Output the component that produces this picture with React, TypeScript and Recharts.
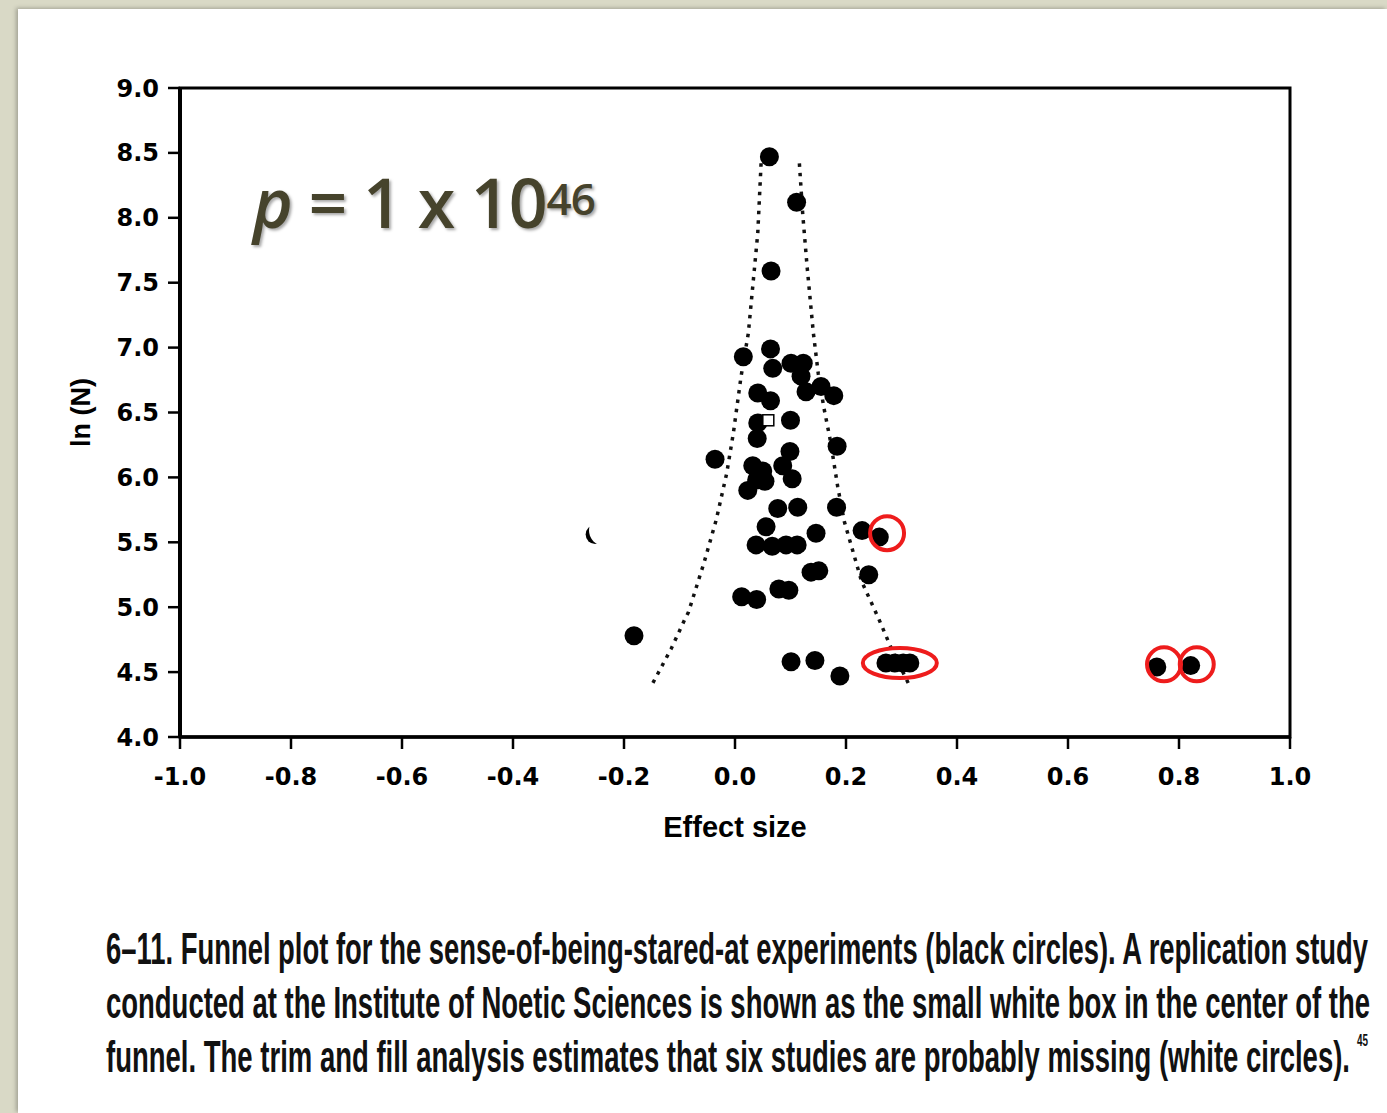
import {
  ScatterChart,
  Scatter,
  XAxis,
  YAxis,
  ReferenceArea,
} from "recharts";

// effect size / ln(N) of the published studies (black circles)
const studyEffect = [
  0.062, 0.111, 0.065, 0.064, 0.015, 0.068, 0.101, 0.123, 0.119, 0.128,
  0.155, 0.178, 0.041, 0.064, 0.1, 0.041, 0.04, 0.184, -0.036, 0.099,
  0.086, 0.032, 0.05, 0.039, 0.054, 0.023, 0.103, 0.077, 0.113, 0.183,
  0.056, 0.038, 0.067, 0.092, 0.112, 0.146, 0.229, 0.26, 0.151, 0.137,
  0.241, 0.079, 0.097, 0.012, 0.039, -0.182, 0.101, 0.144, 0.189, 0.272,
  0.288, 0.303, 0.315, 0.76, 0.821, -0.252,
];
const studyLnN = [
  8.47, 8.12, 7.59, 6.99, 6.93, 6.84, 6.88, 6.88, 6.78, 6.66,
  6.7, 6.63, 6.65, 6.59, 6.44, 6.42, 6.3, 6.24, 6.14, 6.2,
  6.09, 6.09, 6.05, 5.98, 5.97, 5.9, 5.99, 5.76, 5.77, 5.77,
  5.62, 5.48, 5.47, 5.48, 5.48, 5.57, 5.59, 5.54, 5.28, 5.27,
  5.25, 5.14, 5.13, 5.08, 5.06, 4.78, 4.58, 4.59, 4.47, 4.57,
  4.57, 4.57, 4.57, 4.54, 4.55, 5.56,
];

// replication study (small white box)
const replicationEffect = [0.06];
const replicationLnN = [6.44];

// erased "missing study" white circle
const missingEffect = [-0.236];
const missingLnN = [5.59];

// funnel boundaries
const funnelLeftEffect = [0.047, 0.041, 0.024, 0.011, -0.003, -0.015, -0.034, -0.056, -0.084, -0.09, -0.115, -0.15];
const funnelLeftLnN = [8.42, 7.88, 7.11, 6.78, 6.34, 6.03, 5.67, 5.34, 4.96, 4.91, 4.68, 4.4];
const funnelRightEffect = [0.116, 0.122, 0.13, 0.141, 0.15, 0.16, 0.172, 0.185, 0.197, 0.228, 0.258, 0.281, 0.315];
const funnelRightLnN = [8.42, 8.03, 7.62, 7.12, 6.8, 6.54, 6.28, 5.93, 5.66, 5.2, 4.92, 4.69, 4.39];

// red highlight marks
const circleEffect = [0.274, 0.773, 0.832];
const circleLnN = [5.57, 4.56, 4.56];
const ovalEffect = [0.297];
const ovalLnN = [4.57];

const xTicks = [-1.0, -0.8, -0.6, -0.4, -0.2, 0.0, 0.2, 0.4, 0.6, 0.8, 1.0];
const yTicks = [4.0, 4.5, 5.0, 5.5, 6.0, 6.5, 7.0, 7.5, 8.0, 8.5, 9.0];

const captionLines = [
  "6–11. Funnel plot for the sense-of-being-stared-at experiments (black circles). A replication study",
  "conducted at the Institute of Noetic Sciences is shown as the small white box in the center of the",
  "funnel. The trim and fill analysis estimates that six studies are probably missing (white circles).",
];
const captionNote = "45";

const zip = (xs: number[], ys: number[]) => xs.map((x, i) => ({ x, y: ys[i] }));

const studies = zip(studyEffect, studyLnN);
const replication = zip(replicationEffect, replicationLnN);
const missing = zip(missingEffect, missingLnN);
const funnelLeft = zip(funnelLeftEffect, funnelLeftLnN);
const funnelRight = zip(funnelRightEffect, funnelRightLnN);
const circles = zip(circleEffect, circleLnN);
const ovals = zip(ovalEffect, ovalLnN);

const tickStyle = {
  fill: "#000",
  fontSize: 24,
  fontWeight: 700,
  fontFamily: "DejaVu Sans, sans-serif",
};

const RED = "#ee1c1c";
const dotted = { stroke: "#111", strokeWidth: 3.5, strokeDasharray: "3.5 6" };
const noShape = () => <g />;

const App = () => {
  return (
    <div
      style={{
        position: "relative",
        width: 1387,
        height: 1113,
        background: "#d9d9c6",
        overflow: "hidden",
      }}
    >
      <style>{"body{margin:0}"}</style>
      <div
        style={{
          position: "absolute",
          left: 18,
          top: 9,
          right: 0,
          bottom: 0,
          background: "#fff",
          boxShadow: "-2px -1px 4px rgba(0,0,0,0.25)",
        }}
      />
      <div style={{ position: "absolute", left: 0, top: 0 }}>
        <ScatterChart
          width={1387}
          height={850}
          margin={{ top: 88, right: 97, bottom: 13, left: 0 }}
        >
          <XAxis
            type="number"
            dataKey="x"
            domain={[-1, 1]}
            ticks={xTicks}
            tickFormatter={(v: number) => v.toFixed(1)}
            tick={tickStyle}
            tickSize={12}
            tickMargin={19}
            tickLine={{ stroke: "#000", strokeWidth: 2.5 }}
            axisLine={{ stroke: "#000", strokeWidth: 3.5 }}
            height={100}
            allowDataOverflow
            label={{
              value: "Effect size",
              position: "insideBottom",
              offset: 0,
              style: {
                fill: "#000",
                fontSize: 29,
                fontWeight: 700,
                fontFamily: "Liberation Sans, Arial, sans-serif",
              },
            }}
          />
          <YAxis
            type="number"
            dataKey="y"
            domain={[4, 9]}
            ticks={yTicks}
            tickFormatter={(v: number) => v.toFixed(1)}
            tick={tickStyle}
            tickSize={12}
            tickMargin={9}
            tickLine={{ stroke: "#000", strokeWidth: 2.5 }}
            axisLine={{ stroke: "#000", strokeWidth: 4 }}
            width={180}
            allowDataOverflow
            label={{
              value: "ln (N)",
              angle: -90,
              position: "insideLeft",
              offset: 80,
              style: {
                fill: "#000",
                fontSize: 27,
                fontWeight: 700,
                textAnchor: "middle",
                fontFamily: "Liberation Sans, Arial, sans-serif",
              },
            }}
          />
          <ReferenceArea
            x1={-1}
            x2={1}
            y1={4}
            y2={9}
            fill="none"
            fillOpacity={0}
            stroke="#000"
            strokeWidth={3}
          />
          <Scatter
            data={funnelLeft}
            line={dotted}
            lineType="joint"
            shape={noShape}
            isAnimationActive={false}
          />
          <Scatter
            data={funnelRight}
            line={dotted}
            lineType="joint"
            shape={noShape}
            isAnimationActive={false}
          />
          <Scatter
            data={studies}
            isAnimationActive={false}
            shape={(p: any) => <circle cx={p.cx} cy={p.cy} r={9.5} fill="#000" />}
          />
          <Scatter
            data={missing}
            isAnimationActive={false}
            shape={(p: any) => <circle cx={p.cx} cy={p.cy} r={15} fill="#fff" />}
          />
          <Scatter
            data={replication}
            isAnimationActive={false}
            shape={(p: any) => (
              <rect
                x={p.cx - 5.5}
                y={p.cy - 5.5}
                width={11}
                height={11}
                fill="#fff"
                stroke="#000"
                strokeWidth={1.5}
              />
            )}
          />
          <Scatter
            data={circles}
            isAnimationActive={false}
            shape={(p: any) => (
              <circle cx={p.cx} cy={p.cy} r={17} fill="none" stroke={RED} strokeWidth={4} />
            )}
          />
          <Scatter
            data={ovals}
            isAnimationActive={false}
            shape={(p: any) => (
              <ellipse cx={p.cx} cy={p.cy} rx={37} ry={15} fill="none" stroke={RED} strokeWidth={4} />
            )}
          />
        </ScatterChart>
      </div>
      <div
        style={{
          position: "absolute",
          left: 253,
          top: 168,
          fontFamily: "Open Sans, sans-serif",
          fontSize: 68,
          fontWeight: 600,
          color: "#46432c",
          lineHeight: 1,
          whiteSpace: "nowrap",
          letterSpacing: -1,
          textShadow: "2px 2px 3px rgba(0,0,0,0.35)",
        }}
      >
        <i>p</i> = 1 x 10
        <sup style={{ fontSize: 44, verticalAlign: "top", position: "relative", top: 8 }}>46</sup>
      </div>
      <svg
        width={1387}
        height={213}
        style={{ position: "absolute", left: 0, top: 900 }}
      >
        {captionLines.map((line, i) => (
          <g key={i} transform={`translate(106, ${64 + i * 54}) scale(1, 1.66)`}>
            <text
              x={0}
              y={0}
              fontSize={27}
              fontWeight={700}
              fontFamily="Liberation Sans, Arial, sans-serif"
              fill="#111"
              textLength={[1262, 1264, 1244][i]}
              lengthAdjust="spacingAndGlyphs"
            >
              {line}
            </text>
          </g>
        ))}
        <text
          x={1357}
          y={146}
          fontSize={16}
          fontWeight={700}
          fontFamily="Liberation Sans, Arial, sans-serif"
          fill="#111"
          textLength={11}
          lengthAdjust="spacingAndGlyphs"
        >
          {captionNote}
        </text>
      </svg>
    </div>
  );
};

export default App;
